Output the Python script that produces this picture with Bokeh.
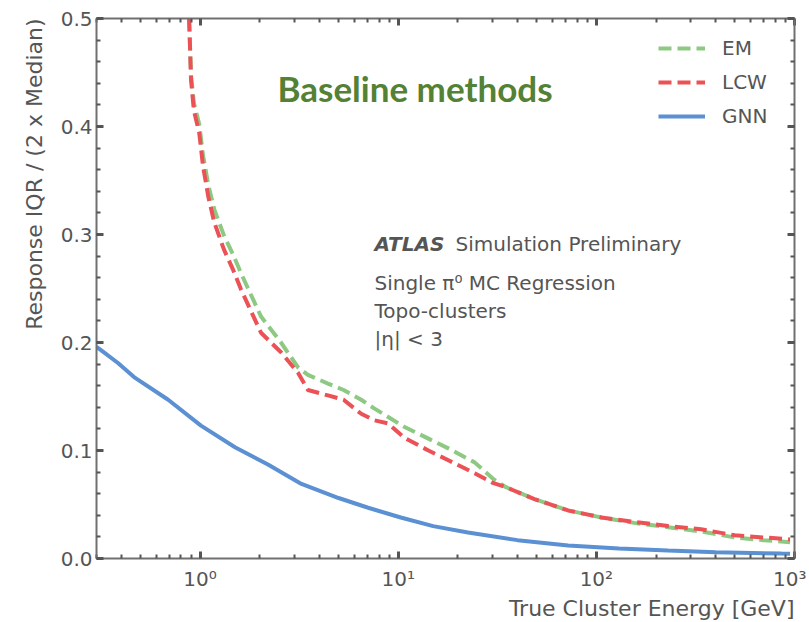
from bokeh.plotting import figure
from bokeh.models import (FixedTicker, LinearAxis, LogAxis, Label, Legend, LegendItem, Title)
from bokeh.embed import file_html
from bokeh.resources import INLINE

# ---- data ----
energy_base = [0.88, 0.90, 0.93, 0.99, 1.035, 1.10, 1.18, 1.32, 1.47, 1.61, 2.03, 2.56,
               3.12, 3.5, 4.42, 5.3, 6.5, 7.56, 8.9, 10.7, 14.2, 17.9, 24.3, 30, 35, 48.7,
               72, 106, 155, 230, 338, 500, 700, 950]
lcw_iqr = [0.50, 0.443, 0.415, 0.394, 0.363, 0.335, 0.311, 0.286, 0.267, 0.249, 0.209, 0.191,
           0.172, 0.156, 0.151, 0.147, 0.134, 0.128, 0.125, 0.112, 0.100, 0.091, 0.079, 0.070, 0.066, 0.055,
           0.0445, 0.038, 0.034, 0.030, 0.027, 0.0215, 0.0195, 0.0176]
em_iqr = [0.50, 0.448, 0.422, 0.402, 0.373, 0.346, 0.323, 0.299, 0.281, 0.264, 0.224, 0.200,
          0.177, 0.170, 0.162, 0.156, 0.147, 0.139, 0.131, 0.122, 0.111, 0.102, 0.089, 0.074, 0.066, 0.055,
          0.0445, 0.038, 0.033, 0.029, 0.025, 0.0195, 0.017, 0.015]

energy_gnn = [0.30, 0.316, 0.385, 0.464, 0.69, 1.01, 1.5, 2.2, 3.2, 5.0, 7.05, 10.3, 15, 22.5, 40,
              72, 130, 230, 400, 860, 950]
gnn_iqr = [0.196, 0.193, 0.181, 0.168, 0.147, 0.123, 0.103, 0.087, 0.0696, 0.056, 0.047, 0.038, 0.030,
           0.024, 0.017, 0.012, 0.0092, 0.0074, 0.0058, 0.0046, 0.0045]

x_major = [1, 10, 100, 1000]
x_major_labels = {1: "10\u2070", 10: "10\u00b9", 100: "10\u00b2", 1000: "10\u00b3"}
y_major = [0.0, 0.1, 0.2, 0.3, 0.4, 0.5]
y_major_labels = {0.0: "0.0", 0.1: "0.1", 0.2: "0.2", 0.3: "0.3", 0.4: "0.4", 0.5: "0.5"}
x_title = "True Cluster Energy [GeV]"
y_title = "Response IQR / (2 x Median)"

# ---- styles ----
TXT = "#555555"
AX = "#707070"
FONT = "DejaVu Sans"
EM_C = "#8ec983"
LCW_C = "#ec5156"
GNN_C = "#5b90d2"

x_minor = [m * 10 ** d for d in range(-1, 3) for m in range(2, 10)]
y_minor = [round(i * 0.02, 2) for i in range(0, 26)]

p = figure(width=806, height=622, x_axis_type="log", x_range=(0.3, 1000), y_range=(0, 0.5),
           output_backend="svg", toolbar_location=None,
           min_border_left=96, min_border_right=12, min_border_top=18, min_border_bottom=64,
           x_axis_location=None, y_axis_location=None)
p.outline_line_color = None
p.xgrid.visible = False
p.ygrid.visible = False
p.background_fill_color = "white"
p.border_fill_color = "white"

xt = FixedTicker(ticks=x_major, minor_ticks=x_minor)
yt = FixedTicker(ticks=y_major, minor_ticks=y_minor)


def style(ax, show_labels):
    ax.axis_line_color = AX
    ax.axis_line_width = 2
    ax.major_tick_line_color = "#555555"
    ax.minor_tick_line_color = "#555555"
    ax.major_tick_line_width = 3
    ax.minor_tick_line_width = 2
    ax.major_tick_in = 7
    ax.major_tick_out = 0
    ax.minor_tick_in = 4
    ax.minor_tick_out = 0
    if show_labels:
        ax.major_label_text_font = FONT
        ax.major_label_text_font_size = "20px"
        ax.major_label_text_color = TXT
    else:
        ax.major_label_text_font_size = "2px"
        ax.major_label_text_color = None
        ax.major_label_standoff = 0


bottom = LogAxis(ticker=xt, major_label_overrides=x_major_labels)
style(bottom, True)
bottom.major_label_standoff = 8
top = LogAxis(ticker=xt)
style(top, False)
left = LinearAxis(ticker=yt, major_label_overrides=y_major_labels)
style(left, True)
left.major_label_standoff = 4
right = LinearAxis(ticker=yt)
style(right, False)
p.add_layout(bottom, "below")
p.add_layout(top, "above")
p.add_layout(left, "left")
p.add_layout(right, "right")

# axis titles, aligned to the top / right end as in the reference
p.add_layout(Title(text=x_title, align="right", text_font=FONT, text_font_size="22px",
                   text_font_style="normal", text_color=TXT, standoff=1, offset=0), "below")
p.add_layout(Title(text=y_title, align="right", text_font=FONT, text_font_size="22px",
                   text_font_style="normal", text_color=TXT, standoff=21, offset=0), "left")

r_em = p.line(energy_base, em_iqr, line_color=EM_C, line_width=4, line_dash="13 6")
r_lcw = p.line(energy_base, lcw_iqr, line_color=LCW_C, line_width=4, line_dash="13 6")
r_gnn = p.line(energy_gnn, gnn_iqr, line_color=GNN_C, line_width=4)

legend = Legend(items=[LegendItem(label="EM", renderers=[r_em]),
                       LegendItem(label="LCW", renderers=[r_lcw]),
                       LegendItem(label="GNN", renderers=[r_gnn])],
                location="top_right", border_line_color=None, background_fill_alpha=0,
                label_text_font=FONT, label_text_font_size="20px", label_text_color=TXT,
                glyph_width=47, glyph_height=20, label_standoff=17, label_width=54,
                spacing=10, padding=0, margin=18)
p.add_layout(legend)

# in-plot texts (screen px relative to the frame's bottom-left)
p.add_layout(Label(x=181, y=471, x_units="screen", y_units="screen", text="Baseline methods",
                   text_align="left", text_baseline="middle", text_font="Lato",
                   text_font_style="bold", text_font_size="35px", text_color="#538135"))
p.add_layout(Label(x=278, y=315, x_units="screen", y_units="screen", text="ATLAS",
                   text_align="left", text_baseline="middle", text_font=FONT,
                   text_font_style="bold italic", text_font_size="20px", text_color=TXT))
p.add_layout(Label(x=359, y=315, x_units="screen", y_units="screen", text="Simulation Preliminary",
                   text_align="left", text_baseline="middle", text_font=FONT,
                   text_font_size="20px", text_color=TXT))
for txt, yy in [("Single \u03c0\u2070 MC Regression", 276), ("Topo-clusters", 248), ("|\u03b7| < 3", 220)]:
    p.add_layout(Label(x=278, y=yy, x_units="screen", y_units="screen", text=txt,
                       text_align="left", text_baseline="middle", text_font=FONT,
                       text_font_size="20px", text_color=TXT))

open("out.html", "w").write(file_html(p, INLINE))
